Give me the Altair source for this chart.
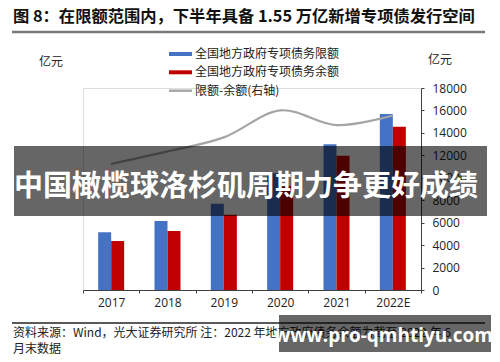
import altair as alt
import pandas as pd

years = ["2017", "2018", "2019", "2020", "2021", "2022E"]
limit = [71400, 85500, 106800, 144500, 180300, 217800]
balance = [60600, 73000, 93200, 128500, 166200, 202100]
gap = [11230, 12350, 13600, 16000, 14700, 15550]

title_text = "图 8：在限额范围内，下半年具备 1.55 万亿新增专项债发行空间"
legend_labels = ["全国地方政府专项债务限额", "全国地方政府专项债务余额", "限额-余额(右轴)"]
unit = "亿元"
source1 = "资料来源：Wind，光大证券研究所 注：2022 年地方政府债务余额为截至 2022 年 6"
source2 = "月末数据"
banner = "中国橄榄球洛杉矶周期力争更好成绩"
banner2 = "www.pro-qmhtiyu.com"

BLUE = "#4472C4"
RED = "#C00000"
GRAY = "#A5A5A5"
FONT = "Open Sans, Noto Sans CJK SC"
CJK = "Noto Sans CJK SC"

df = pd.DataFrame({"year": years, "limit": limit, "balance": balance, "gap": gap})

xenc = alt.X("year:N", sort=years, title=None,
             scale=alt.Scale(paddingInner=0, paddingOuter=0),
             axis=alt.Axis(labelAngle=0, tickBand="extent", tickSize=3, labelPadding=4,
                           labelFontSize=12, labelColor="#222", labelFont=FONT,
                           domainColor="#404040", tickColor="#404040"))

yleft = alt.Scale(domain=[0, 250000], nice=False)
left_axis = alt.Axis(values=[0, 50000, 100000, 150000, 200000, 250000], format="d",
                     grid=False, tickSize=3, labelPadding=8, labelFontSize=12,
                     labelColor="#222", labelFont=FONT, domainColor="#404040",
                     tickColor="#404040", orient="left")

bars_blue = alt.Chart(df).mark_bar(size=13, xOffset=-6.5, color=BLUE).encode(
    x=xenc, y=alt.Y("limit:Q", scale=yleft, axis=left_axis, title=None))
bars_red = alt.Chart(df).mark_bar(size=13, xOffset=6.5, color=RED).encode(
    x=xenc, y=alt.Y("balance:Q", scale=yleft, axis=None, title=None))

bars = alt.layer(bars_blue, bars_red)

line = alt.Chart(df).mark_line(color=GRAY, strokeWidth=2.2, interpolate="cardinal").encode(
    x=xenc,
    y=alt.Y("gap:Q", title=None, scale=alt.Scale(domain=[0, 18000], nice=False),
            axis=alt.Axis(values=list(range(0, 18001, 2000)), format="d", grid=False,
                          tickSize=3, labelPadding=8, labelFontSize=12, labelColor="#222",
                          labelFont=FONT, domainColor="#404040", tickColor="#404040",
                          orient="right")))

def txt(text, x, y, size=12, weight="normal", color="#222", align="left",
        baseline="middle", font=CJK):
    return alt.Chart(pd.DataFrame({"t": [text]})).mark_text(
        align=align, baseline=baseline, fontSize=size, fontWeight=weight,
        color=color, font=font).encode(text="t:N", x=alt.value(x), y=alt.value(y))

def rect(x1, x2, y1, y2, color, opacity=1.0):
    return alt.Chart(pd.DataFrame({"a": [0]})).mark_rect(color=color, opacity=opacity).encode(
        x=alt.value(x1), x2=alt.value(x2), y=alt.value(y1), y2=alt.value(y2))

decor = [
    txt(title_text, -70, -71, size=16.3, weight="bold", color="#111"),
    rect(-71, 402, -57.3, -54.7, "#7a7a7a"),
    rect(-71, 402, 234, 236, "#5a5a5a"),
    rect(86, 109, -36, -32, BLUE),
    rect(86, 109, -17.7, -13.7, RED),
    rect(86, 109, 1.5, 3.9, GRAY),
    txt(legend_labels[0], 112, -34),
    txt(legend_labels[1], 112, -15.7),
    txt(legend_labels[2], 112, 2.7),
    txt(unit, -32, -26, align="center"),
    txt(unit, 357, -28, align="center"),
    txt(source1, -70, 245),
    txt(source2, -70, 260.5),
    rect(-69, 404, 58, 128, "#000000", 0.6),
    txt(banner, 163, 99, size=29, weight="bold", color="#ffffff", align="center"),
    rect(196, 408, 227, 264, "#000000", 0.6),
    txt(banner2, 300.5, 253.7, size=19, weight="bold", color="#ffffff", align="center",
        baseline="alphabetic", font="Open Sans"),
]

chart = alt.layer(bars, line, *decor).resolve_scale(y="independent").properties(
    width=338, height=202,
    autosize=alt.AutoSizeParams(type="none"),
    padding={"left": 75, "top": 80, "right": 71, "bottom": 64},
).configure_view(stroke=None).configure(background="white")

chart.save("out.html", embed_options={"renderer": "svg", "actions": False})
